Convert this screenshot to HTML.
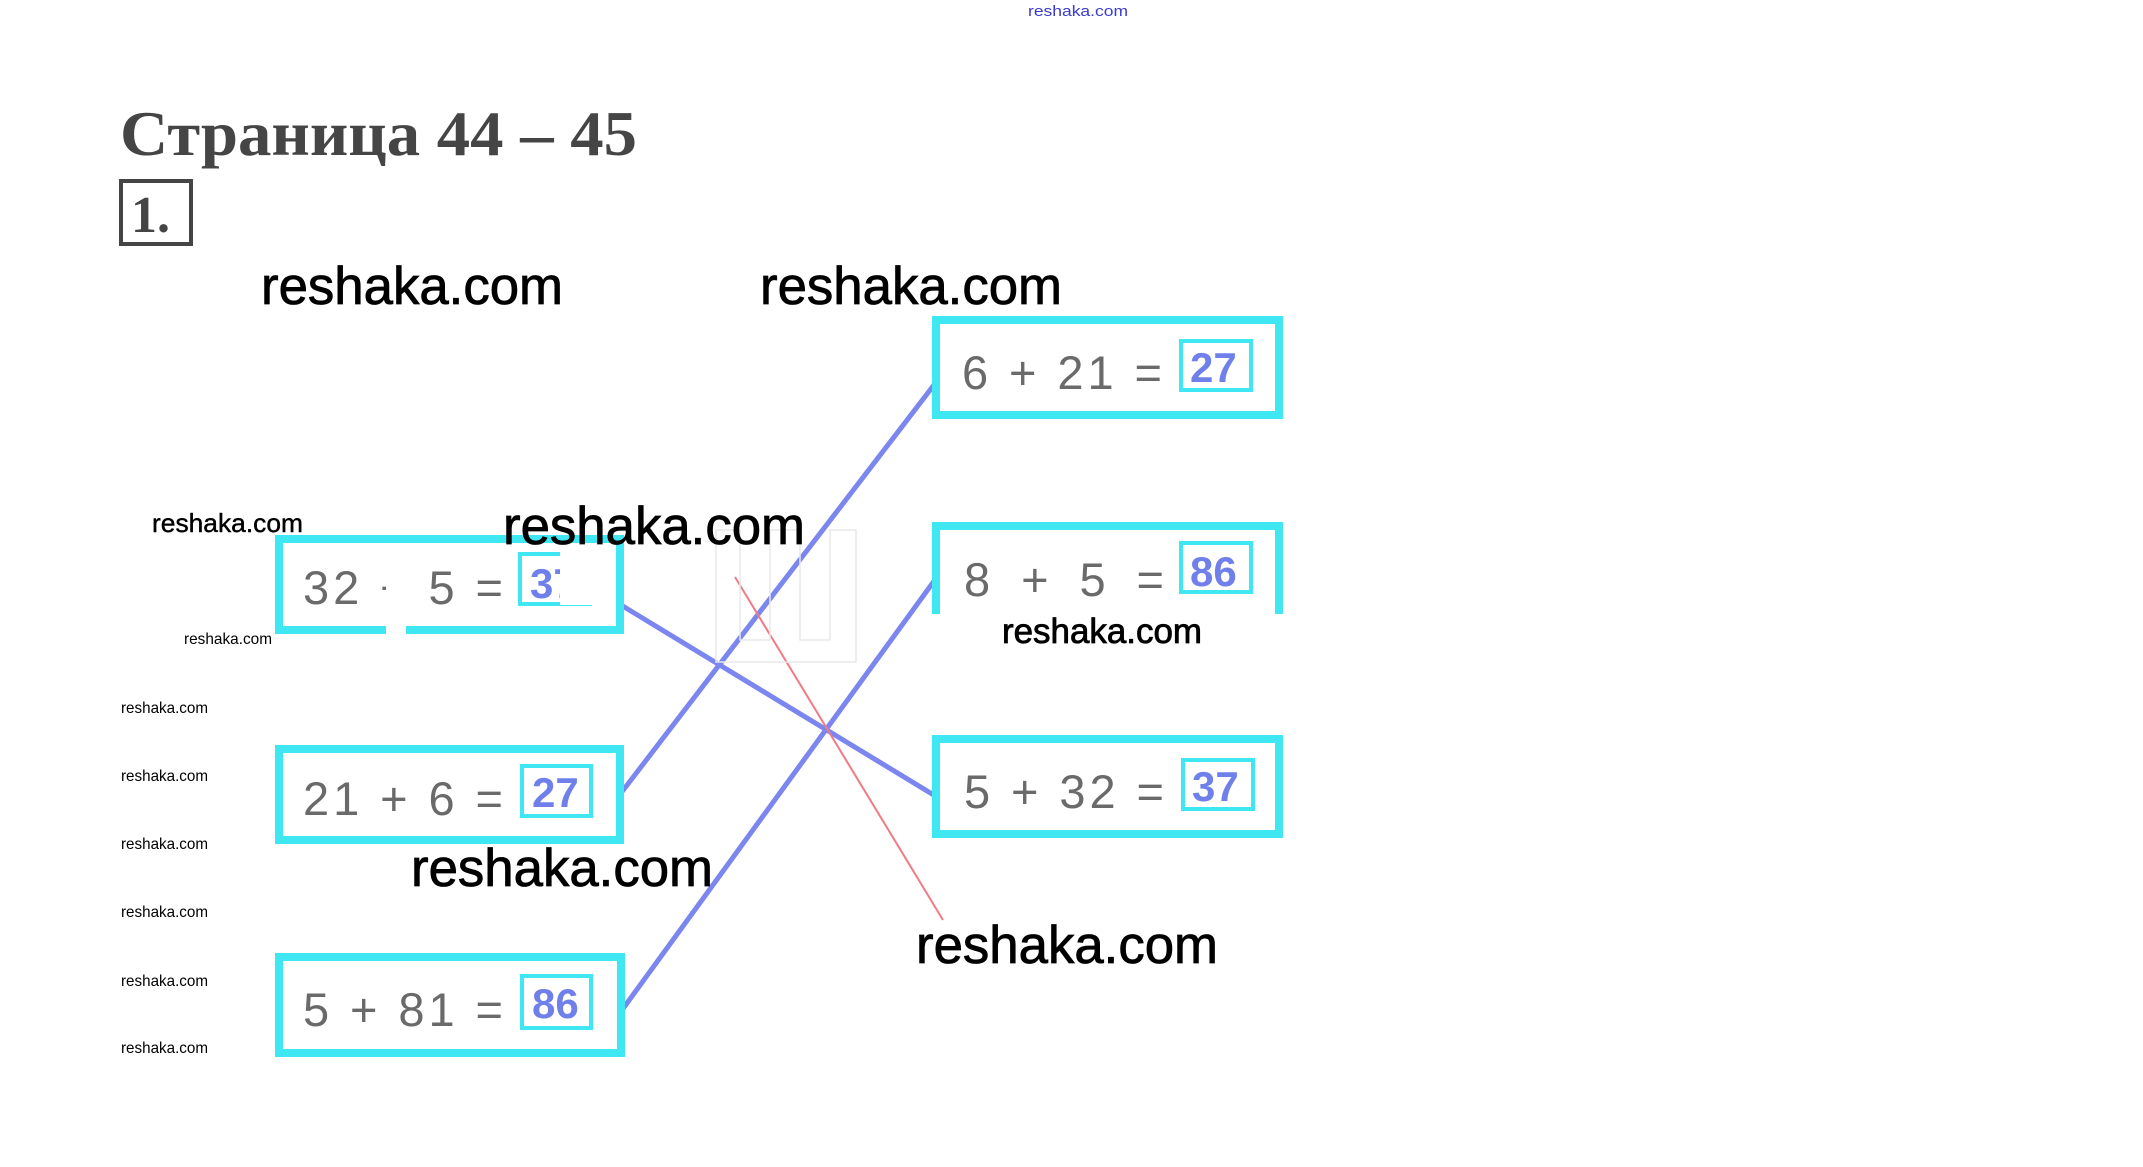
<!DOCTYPE html>
<html><head><meta charset="utf-8"><style>
html,body{margin:0;padding:0;background:#fff;}
svg{display:block;}
</style></head><body>
<svg width="2143" height="1167" viewBox="0 0 2143 1167" xmlns="http://www.w3.org/2000/svg">
<rect width="2143" height="1167" fill="#fff"/>
<text x="1028" y="16" font-family="Liberation Sans, sans-serif" font-size="15" fill="#3b3bd0" textLength="100" lengthAdjust="spacingAndGlyphs">reshaka.com</text>

<text x="120" y="155" font-family="Liberation Serif, serif" font-weight="bold" font-size="64" fill="#454545" textLength="517" lengthAdjust="spacingAndGlyphs">Страница 44 – 45</text>
<rect x="121" y="181" width="70" height="63" fill="none" stroke="#454545" stroke-width="4"/>
<text x="131" y="232" font-family="Liberation Serif, serif" font-weight="bold" font-size="52" fill="#454545">1.</text>

<g stroke="#7b86ee" stroke-width="5" stroke-linecap="round">
<line x1="621" y1="793" x2="937" y2="381"/>
<line x1="622" y1="1010" x2="937" y2="577"/>
<line x1="621" y1="605" x2="937" y2="797"/>
</g>
<line x1="735" y1="577" x2="943" y2="920" stroke="#f07a86" stroke-width="2"/>

<g fill="#fff" stroke="#3fe7f2" stroke-width="8">
<rect x="279" y="539" width="341" height="91"/>
<rect x="279" y="749" width="341" height="91"/>
<rect x="279" y="957" width="342" height="96"/>
<rect x="936" y="320" width="343" height="95"/>
<rect x="936" y="739" width="343" height="95"/>
</g>
<path d="M936 614 V526 H1279 V614" fill="#fff" stroke="#3fe7f2" stroke-width="8"/>

<g fill="#fff" stroke="#3fe7f2" stroke-width="4">
<rect x="520" y="554" width="70" height="50"/>
<rect x="522" y="766" width="69" height="50"/>
<rect x="522" y="976" width="69" height="52"/>
<rect x="1181" y="341" width="70" height="49"/>
<rect x="1181" y="543" width="70" height="49"/>
<rect x="1183" y="760" width="70" height="49"/>
</g>

<g font-family="Liberation Sans, sans-serif" font-size="47" fill="#6a6a6a">
<text x="303" y="604" textLength="200">32 + 5 =</text>
<text x="303" y="815" textLength="200">21 + 6 =</text>
<text x="303" y="1026" textLength="200">5 + 81 =</text>
<text x="962" y="389" textLength="200">6 + 21 =</text>
<text x="964" y="596" textLength="200">8 + 5 =</text>
<text x="964" y="808" textLength="200">5 + 32 =</text>
</g>
<g font-family="Liberation Sans, sans-serif" font-weight="bold" font-size="42" fill="#7080ea">
<text x="530" y="598">37</text>
<text x="532" y="807">27</text>
<text x="532" y="1018">86</text>
<text x="1190" y="382">27</text>
<text x="1190" y="586">86</text>
<text x="1192" y="801">37</text>
</g>

<g fill="#fff" stroke="#e8e8e8" stroke-width="1.5">
<rect x="386" y="545" width="20" height="90" stroke="none"/>
<rect x="560" y="545" width="40" height="60" stroke="none"/>
<path d="M716 530 H740 V640 H770 V530 H800 V640 H830 V530 H856 V662 H716 Z" fill="none"/>
</g>
<rect x="930" y="614" width="360" height="12" fill="#fff"/>

<g font-family="Liberation Sans, sans-serif" fill="#000" stroke="#000" stroke-width="0.8">
<text x="261" y="304" font-size="53" textLength="302" lengthAdjust="spacingAndGlyphs">reshaka.com</text>
<text x="760" y="304" font-size="53" textLength="302" lengthAdjust="spacingAndGlyphs">reshaka.com</text>
<text x="503" y="544" font-size="53" textLength="302" lengthAdjust="spacingAndGlyphs">reshaka.com</text>
<text x="411" y="886" font-size="53" textLength="302" lengthAdjust="spacingAndGlyphs">reshaka.com</text>
<text x="916" y="963" font-size="53" textLength="302" lengthAdjust="spacingAndGlyphs">reshaka.com</text>
<text x="1002" y="643" font-size="35" textLength="200" lengthAdjust="spacingAndGlyphs">reshaka.com</text>
<text x="152" y="532" font-size="26" textLength="151" lengthAdjust="spacingAndGlyphs" stroke-width="0.4">reshaka.com</text>
<text x="184" y="644" font-size="16" textLength="88" lengthAdjust="spacingAndGlyphs" stroke="none">reshaka.com</text>
<g font-size="16" stroke="none">
<text x="121" y="713" textLength="87" lengthAdjust="spacingAndGlyphs">reshaka.com</text>
<text x="121" y="781" textLength="87" lengthAdjust="spacingAndGlyphs">reshaka.com</text>
<text x="121" y="849" textLength="87" lengthAdjust="spacingAndGlyphs">reshaka.com</text>
<text x="121" y="917" textLength="87" lengthAdjust="spacingAndGlyphs">reshaka.com</text>
<text x="121" y="986" textLength="87" lengthAdjust="spacingAndGlyphs">reshaka.com</text>
<text x="121" y="1053" textLength="87" lengthAdjust="spacingAndGlyphs">reshaka.com</text>
</g>
</g>
</svg>
</body></html>
